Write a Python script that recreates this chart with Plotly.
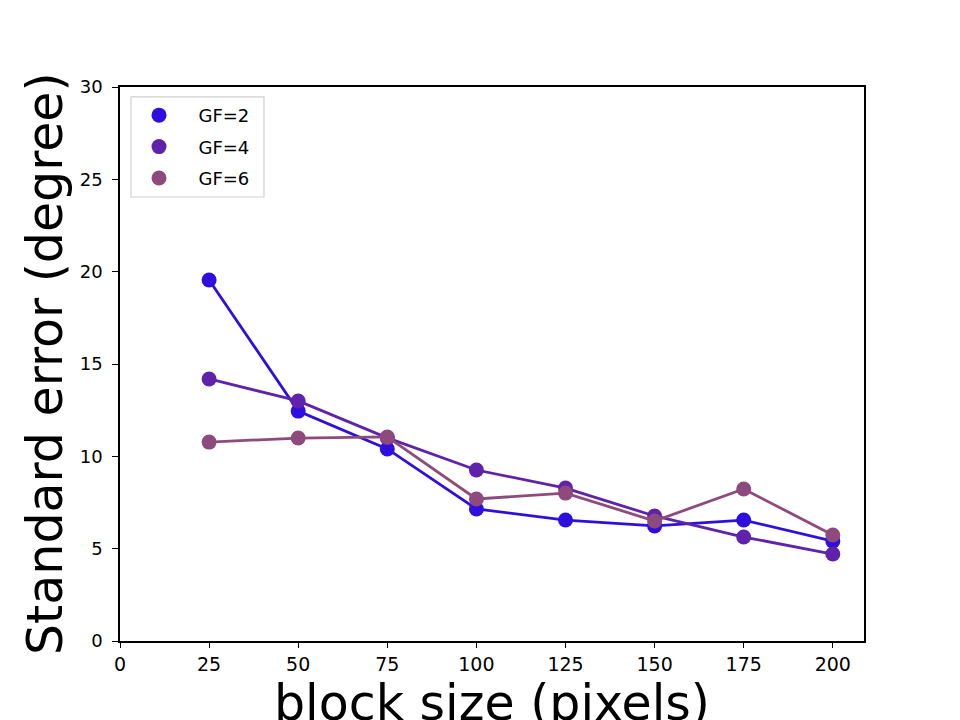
import plotly.graph_objects as go

block_size = [25, 50, 75, 100, 125, 150, 175, 200]
gf2 = [19.55, 12.45, 10.4, 7.15, 6.55, 6.23, 6.55, 5.41]
gf4 = [14.19, 13.0, 11.0, 9.26, 8.28, 6.77, 5.63, 4.71]
gf6 = [10.77, 10.99, 11.05, 7.69, 8.01, 6.5, 8.23, 5.74]
labels = ["GF=2", "GF=4", "GF=6"]
colors = ["#2E0FE0", "#6022AA", "#8E4A7C"]
x_ticks = [0, 25, 50, 75, 100, 125, 150, 175, 200]
y_ticks = [0, 5, 10, 15, 20, 25, 30]

font = "DejaVu Sans"
fig = go.Figure()
for ys, lab, col in zip([gf2, gf4, gf6], labels, colors):
    fig.add_trace(go.Scatter(x=block_size, y=ys, mode="lines",
                             line=dict(color=col, width=2.8),
                             showlegend=False, hoverinfo="skip"))
    fig.add_trace(go.Scatter(x=block_size, y=ys, mode="markers",
                             name="\u00a0\u00a0" + lab, legendgroup=lab,
                             marker=dict(color=col, size=15)))

# legend frame (rounded, light gray) drawn as a shape
fig.add_shape(type="rect", xref="paper", yref="paper",
              x0=0.0148, x1=0.1935, y0=0.8014, y1=0.982,
              line=dict(color="#d0d0d0", width=1.2), fillcolor="rgba(0,0,0,0)",
              layer="below")

fig.update_layout(
    width=960, height=720,
    margin=dict(l=120, r=96, t=87, b=79),
    plot_bgcolor="white", paper_bgcolor="white",
    font=dict(family=font, color="black"),
    legend=dict(x=0.0148, y=0.982, xanchor="left", yanchor="top",
                borderwidth=0, bgcolor="rgba(0,0,0,0)",
                itemwidth=46, tracegroupgap=5, traceorder="grouped",
                font=dict(size=18, family=font)),
    xaxis=dict(range=[0, 208.75], tickvals=x_ticks, ticks="outside", ticklen=5,
               tickwidth=1.2, tickcolor="black", showgrid=False, zeroline=False,
               showline=True, linecolor="black", linewidth=1.5, mirror=True,
               tickfont=dict(size=19, family="Liberation Sans Narrow, " + font)),
    yaxis=dict(range=[0, 30], tickvals=y_ticks, ticks="outside", ticklen=6,
               tickwidth=1.2, tickcolor="black", showgrid=False, zeroline=False,
               showline=True, linecolor="black", linewidth=1.5, mirror=True,
               ticklabelstandoff=6,
               tickfont=dict(size=18, family=font)),
    annotations=[
        dict(text="block size (pixels)", xref="paper", yref="paper",
             x=0.5, y=-0.1137, xanchor="center", yanchor="middle",
             showarrow=False, font=dict(size=49, family=font)),
        dict(text="Standard error (degree)", xref="paper", yref="paper",
             x=-0.1008, y=0.5, xanchor="center", yanchor="middle", textangle=-90,
             showarrow=False, font=dict(size=49, family=font)),
    ],
)
fig.write_html("out.html")
